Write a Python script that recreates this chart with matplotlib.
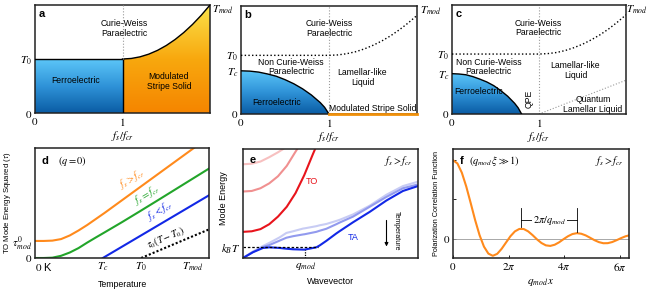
import numpy as np
import matplotlib
matplotlib.use("Agg")
import matplotlib.pyplot as plt
from matplotlib.colors import LinearSegmentedColormap
from matplotlib.patches import Polygon

plt.rcParams["font.family"] = ["Liberation Sans", "DejaVu Sans"]
plt.rcParams["mathtext.fontset"] = "stix"
plt.rcParams["font.size"] = 6.2

# ---------------- data ----------------
# phase diagrams (x = f_s/f_cr, y = temperature in axis units)
a_T0 = 0.5
a_bound_x = [1.0, 1.1, 1.2, 1.3, 1.4, 1.5, 1.6, 1.7, 1.8, 1.9, 2.0]
a_bound_y = [0.5, 0.505, 0.52, 0.545, 0.58, 0.625, 0.68, 0.745, 0.82, 0.905, 1.0]

b_T0, b_Tc, b_Tmod = 0.543, 0.40, 0.913
b_dome_x = [0.0, 0.1, 0.2, 0.3, 0.4, 0.5, 0.6, 0.7, 0.8, 0.9, 0.95, 1.0]
b_dome_y = [0.40, 0.397, 0.388, 0.371, 0.35, 0.318, 0.28, 0.233, 0.176, 0.106, 0.062, 0.0]
b_mod_x = [0.0, 1.0, 1.1, 1.2, 1.3, 1.4, 1.5, 1.6, 1.7, 1.8, 1.9, 2.0]
b_mod_y = [0.543, 0.543, 0.547, 0.558, 0.576, 0.602, 0.636, 0.676, 0.724, 0.780, 0.843, 0.913]

c_T0, c_Tc = 0.55, 0.37
c_dome_x = [0.0, 0.08, 0.16, 0.24, 0.32, 0.40, 0.48, 0.56, 0.64, 0.72, 0.76, 0.8]
c_dome_y = [0.37, 0.367, 0.36, 0.343, 0.32, 0.294, 0.26, 0.215, 0.163, 0.098, 0.057, 0.0]
c_mod_x = [0.0, 1.0, 1.1, 1.2, 1.3, 1.4, 1.5, 1.6, 1.7, 1.8, 1.9, 2.0]
c_mod_y = [0.55, 0.55, 0.554, 0.564, 0.582, 0.608, 0.64, 0.68, 0.726, 0.78, 0.842, 0.91]
c_qll_x = [1.0, 2.0]
c_qll_y = [0.0, 0.31]

# panel d: TO mode energy squared vs temperature
d_Tc, d_T0, d_Tmod = 0.39, 0.61, 0.91
d_tau_mod = 0.155
d_T = [0.0, 0.05, 0.10, 0.15, 0.20, 0.25, 0.30, 0.35, 0.40, 0.50, 0.60, 0.70, 0.80, 0.90, 1.0]
d_above = [0.155, 0.155, 0.158, 0.172, 0.205, 0.25, 0.30, 0.355, 0.41, 0.525, 0.64, 0.755, 0.87, 0.985, 1.1]
d_equal = [0.0, 0.0, 0.003, 0.02, 0.05, 0.09, 0.14, 0.187, 0.233, 0.326, 0.422, 0.519, 0.617, 0.715, 0.813]
d_below_T = [0.39, 1.0]
d_below = [0.0, 0.57]
d_cw_T = [0.61, 1.0]
d_cw = [0.0, 0.26]

# panel e: dispersions (wavevector, energy)
e_to_x = [[0.0, 0.05, 0.10, 0.15, 0.20, 0.23],
          [0.0, 0.05, 0.10, 0.15, 0.20, 0.25, 0.30, 0.31],
          [0.0, 0.05, 0.10, 0.15, 0.20, 0.25, 0.30, 0.35, 0.40, 0.412]]
e_to_y = [[0.86, 0.865, 0.885, 0.925, 0.97, 1.0],
          [0.61, 0.615, 0.64, 0.685, 0.75, 0.845, 0.975, 1.0],
          [0.24, 0.245, 0.265, 0.31, 0.38, 0.47, 0.595, 0.76, 0.955, 1.0]]
e_ta_x = [0.0, 0.057, 0.114, 0.152, 0.21, 0.248, 0.286, 0.343, 0.352, 0.419, 0.438, 0.476,
          0.533, 0.552, 0.629, 0.724, 0.819, 0.914, 1.0]
e_ta_light = [0.0, 0.06, 0.11, 0.14, 0.19, 0.23, 0.245, 0.27, 0.272, 0.292, 0.30, 0.312,
              0.34, 0.35, 0.40, 0.48, 0.58, 0.66, 0.70]
e_ta_mid = [0.0, 0.055, 0.10, 0.12, 0.16, 0.186, 0.20, 0.216, 0.218, 0.24, 0.25, 0.268,
            0.31, 0.325, 0.38, 0.47, 0.56, 0.64, 0.675]
e_ta_dark = [0.0, 0.053, 0.092, 0.098, 0.092, 0.085, 0.08, 0.077, 0.077, 0.098, 0.115, 0.157,
             0.225, 0.246, 0.328, 0.423, 0.527, 0.615, 0.66]
e_kT = 0.10
e_qmod = 0.355

# panel f: polarization correlation vs q_mod x
f_x = [0.0, 0.5, 1.0, 1.5, 2.0, 2.5, 3.0, 3.5, 4.0, 4.5, 5.0, 5.5, 6.0, 6.5, 7.0, 7.5, 8.0,
       8.5, 9.0, 9.5, 10.0, 10.5, 11.0, 11.5, 12.0, 12.5, 13.0, 13.5, 14.0, 14.5, 15.0,
       15.5, 16.0, 16.5, 17.0, 17.5, 18.0, 18.5, 19.0, 19.5, 20.0]
f_corr = [1.0, 0.959, 0.841, 0.665, 0.455, 0.239, 0.047, -0.100, -0.189, -0.217, -0.192,
          -0.128, -0.047, 0.033, 0.094, 0.125, 0.124, 0.094, 0.046, -0.008, -0.054, -0.084,
          -0.091, -0.076, -0.045, -0.005, 0.032, 0.060, 0.071, 0.064, 0.043, 0.013, -0.018,
          -0.043, -0.057, -0.056, -0.042, -0.018, 0.008, 0.031, 0.046]
f_peaks = [7.73, 14.07]

# ---------------- style ----------------
blue_cmap = LinearSegmentedColormap.from_list("fe", ["#0a5ca4", "#2f93d8", "#5cc6f8"])
orange_cmap = LinearSegmentedColormap.from_list("mss", ["#f58500", "#f8a80e", "#fbe24a"])
orange = "#ff8a1c"
green = "#22a52a"
blue = "#1228e6"
red = "#e8141c"
grey = "#9a9a9a"
math = 8
W, H = 662, 289


def px_axes(fig, left, top, right, bottom):
    return fig.add_axes([left / W, 1 - bottom / H, (right - left) / W, (bottom - top) / H])


def frame(ax):
    for s in ax.spines.values():
        s.set_linewidth(1.1)
        s.set_color("#222222")
    ax.tick_params(length=0, pad=2, labelsize=math)


def gradient_fill(ax, xs, ys, cmap, y0, y1):
    poly = Polygon(np.column_stack([xs, ys]), closed=True, facecolor="none", edgecolor="none")
    ax.add_patch(poly)
    grad = np.linspace(1, 0, 256).reshape(-1, 1)
    im = ax.imshow(grad, cmap=cmap, extent=[min(xs), max(xs), y0, y1],
                   aspect="auto", origin="upper", zorder=1)
    im.set_clip_path(poly)


def phase_axes(ax, yt, ylab):
    ax.set_xlim(0, 2)
    ax.set_ylim(0, 1)
    ax.set_xticks([0, 1])
    ax.set_xticklabels(["$0$", "$1$"])
    ax.set_yticks(yt)
    ax.set_yticklabels(ylab)
    ax.set_xlabel(r"$f_s/f_{cr}$", fontsize=math, labelpad=1)
    frame(ax)


fig = plt.figure(figsize=(W / 100, H / 100), dpi=100)

# ---- a ----
ax = px_axes(fig, 35, 5, 210, 113)
gradient_fill(ax, [0, 1, 1, 0], [0, 0, a_T0, a_T0], blue_cmap, 0, a_T0)
gradient_fill(ax, [1, 2] + a_bound_x[::-1], [0, 0] + a_bound_y[::-1], orange_cmap, 0, 1)
ax.plot([0, 1], [a_T0, a_T0], color="k", lw=1, zorder=3)
ax.plot([1, 1], [0, a_T0], color="k", lw=1, zorder=3)
ax.plot(a_bound_x, a_bound_y, color="k", lw=1, zorder=3)
ax.plot([1, 1], [a_T0, 1], color=grey, lw=0.8, ls=":", zorder=3)
ax.text(0.04, 0.92, "a", fontsize=8, weight="bold", va="center")
ax.text(1.02, 0.785, "Curie-Weiss\nParaelectric", ha="center", va="center", linespacing=1.1)
ax.text(0.46, 0.30, "Ferroelectric", ha="center", va="center")
ax.text(1.53, 0.29, "Modulated\nStripe Solid", ha="center", va="center", linespacing=1.1)
ax.text(2.02, 0.96, r"$T_{mod}$", fontsize=math, va="center", clip_on=False)
phase_axes(ax, [0, a_T0], ["$0$", "$T_0$"])

# ---- b ----
ax = px_axes(fig, 241, 6, 417, 114)
gradient_fill(ax, b_dome_x + [0], b_dome_y + [0], blue_cmap, 0, b_Tc)
ax.plot(b_dome_x, b_dome_y, color="k", lw=1, zorder=3)
ax.plot(b_mod_x, b_mod_y, color="k", lw=1, ls=":", zorder=3)
ax.plot([1, 1], [0, 1], color=grey, lw=0.8, ls=":", zorder=2)
ax.plot([1, 2], [0, 0], color="#f0900a", lw=2, zorder=4, clip_on=False)
ax.text(0.04, 0.92, "b", fontsize=8, weight="bold", va="center")
ax.text(1.0, 0.79, "Curie-Weiss\nParaelectric", ha="center", va="center", linespacing=1.1)
ax.text(0.57, 0.435, "Non Curie-Weiss\nParaelectric", ha="center", va="center", linespacing=1.1)
ax.text(1.38, 0.34, "Lamellar-like\nLiquid", ha="center", va="center", linespacing=1.1)
ax.text(0.41, 0.11, "Ferroelectric", ha="center", va="center", zorder=5)
ax.text(1.5, 0.055, "Modulated Stripe Solid", ha="center", va="center")
ax.text(2.03, 0.96, r"$T_{mod}$", fontsize=math, va="center", clip_on=False)
phase_axes(ax, [0, b_Tc, b_T0], ["$0$", "$T_c$", "$T_0$"])

# ---- c ----
ax = px_axes(fig, 452, 5, 626, 114)
gradient_fill(ax, c_dome_x + [0], c_dome_y + [0], blue_cmap, 0, c_Tc)
ax.plot(c_dome_x, c_dome_y, color="k", lw=1, zorder=3)
ax.plot(c_mod_x, c_mod_y, color="k", lw=1, ls=":", zorder=3)
ax.plot([1, 1], [0, 1], color=grey, lw=0.8, ls=":", zorder=2)
ax.plot(c_qll_x, c_qll_y, color=grey, lw=0.8, ls=":", zorder=2)
ax.text(0.04, 0.92, "c", fontsize=8, weight="bold", va="center")
ax.text(0.99, 0.79, "Curie-Weiss\nParaelectric", ha="center", va="center", linespacing=1.1)
ax.text(0.42, 0.43, "Non Curie-Weiss\nParaelectric", ha="center", va="center", linespacing=1.1)
ax.text(1.42, 0.40, "Lamellar-like\nLiquid", ha="center", va="center", linespacing=1.1)
ax.text(0.31, 0.21, "Ferroelectric", ha="center", va="center", zorder=5)
ax.text(0.89, 0.14, "QPE", ha="center", va="center", rotation=90)
ax.text(1.62, 0.085, "Quantum\nLamellar Liquid", ha="center", va="center", linespacing=1.1)
ax.text(2.0, 0.96, r"$T_{mod}$", fontsize=math, va="center", clip_on=False)
phase_axes(ax, [0, c_Tc, c_T0], ["$0$", "$T_c$", "$T_0$"])

# ---- d ----
ax = px_axes(fig, 35, 148, 209, 258)
ax.plot(d_T, d_above, color=orange, lw=1.5)
ax.plot(d_T, d_equal, color=green, lw=1.5)
ax.plot(d_below_T, d_below, color=blue, lw=1.5)
ax.plot(d_cw_T, d_cw, color="k", lw=1.5, ls=(0, (1, 1)))
ax.set_xlim(0, 1)
ax.set_ylim(0, 1)
ax.text(0.04, 0.88, "d", fontsize=8, weight="bold", va="center")
ax.text(0.13, 0.88, r"$(q = 0)$", fontsize=7.5, va="center")
ax.text(0.555, 0.725, r"$f_s > f_{cr}$", color=orange, fontsize=7.5, rotation=31,
        ha="center", va="center", rotation_mode="anchor")
ax.text(0.645, 0.58, r"$f_s = f_{cr}$", color=green, fontsize=7.5, rotation=31,
        ha="center", va="center", rotation_mode="anchor")
ax.text(0.72, 0.435, r"$f_s < f_{cr}$", color=blue, fontsize=7.5, rotation=31,
        ha="center", va="center", rotation_mode="anchor")
ax.text(0.75, 0.18, r"$\tau_0(T-T_0)$", color="k", fontsize=7, rotation=23,
        ha="center", va="center", rotation_mode="anchor")
ax.set_xticks([0, d_Tc, d_T0, d_Tmod])
ax.set_xticklabels(["$0$ K", "$T_c$", "$T_0$", "$T_{mod}$"])
ax.set_yticks([0, d_tau_mod])
ax.set_yticklabels(["$0$", r"$\tau^0_{mod}$"])
frame(ax)
ax.get_xticklabels()[0].set_horizontalalignment("left")
ax.set_xlabel("Temperature", fontsize=6.3)
ax.xaxis.set_label_coords(0.5, -0.2)
ax.set_ylabel(r"TO Mode Energy Squared ($\tau$)", fontsize=5.6)
ax.yaxis.set_label_coords(-0.125, 0.5)

# ---- e ----
ax = px_axes(fig, 243, 149, 418, 258)
for xs, ys, c in zip(e_to_x, e_to_y, ["#f7c0c0", "#f09090", red]):
    ax.plot(xs, ys, color=c, lw=1.5)
ax.plot(e_ta_x, e_ta_light, color="#c8ccf4", lw=1.5)
ax.plot(e_ta_x, e_ta_mid, color="#929aee", lw=1.5)
ax.plot(e_ta_x, e_ta_dark, color=blue, lw=1.5)
ax.plot([0, 0.43], [e_kT, e_kT], color="k", lw=0.9, ls=(0, (2, 1.5)))
ax.plot([e_qmod, e_qmod], [0, 0.072], color="k", lw=0.9, ls=(0, (1, 1)))
ax.annotate("", xy=(0.82, 0.08), xytext=(0.82, 0.37),
            arrowprops=dict(arrowstyle="-|>", color="k", lw=0.8, mutation_scale=5))
ax.text(0.875, 0.25, "Temperature", rotation=-90, ha="center", va="center", fontsize=5)
ax.text(0.395, 0.70, "TO", color=red, ha="center", va="center", fontsize=6.5)
ax.text(0.63, 0.19, "TA", color=blue, ha="center", va="center", fontsize=6.5)
ax.text(0.04, 0.90, "e", fontsize=8, weight="bold", va="center")
ax.text(0.97, 0.89, r"$f_s > f_{cr}$", fontsize=7.5, ha="right", va="center")
ax.set_xlim(0, 1)
ax.set_ylim(0, 1)
ax.set_xticks([e_qmod])
ax.set_xticklabels([r"$q_{mod}$"])
ax.set_yticks([e_kT])
ax.set_yticklabels([r"$k_BT$"])
frame(ax)
ax.set_xlabel("Wavevector", fontsize=6.5)
ax.xaxis.set_label_coords(0.5, -0.17)
ax.set_ylabel("Mode Energy", fontsize=6.5)
ax.yaxis.set_label_coords(-0.086, 0.55)

# ---- f ----
ax = px_axes(fig, 453, 149, 629, 258)
ax.axhline(0, color=grey, lw=0.6)
ax.plot(f_x, f_corr, color=orange, lw=1.5)
ax.plot([f_peaks[0], f_peaks[0]], [0.15, 0.39], color="k", lw=0.6)
ax.plot([f_peaks[1], f_peaks[1]], [0.09, 0.39], color="k", lw=0.6)
ax.plot(f_peaks, [0.237, 0.237], color="k", lw=0.6)
ax.text(sum(f_peaks) / 2, 0.237, r"$2\pi/q_{mod}$", fontsize=7.5, ha="center", va="center",
        bbox=dict(facecolor="white", edgecolor="none", pad=0.5))
ax.text(0.04, 0.89, "f", fontsize=8, weight="bold", va="center", transform=ax.transAxes)
ax.text(0.09, 0.89, r"$(q_{mod}\,\xi \gg 1)$", fontsize=7.5, va="center", transform=ax.transAxes)
ax.text(0.97, 0.89, r"$f_s > f_{cr}$", fontsize=7.5, ha="right", va="center",
        transform=ax.transAxes)
ax.set_xlim(0, 19.9)
ax.set_ylim(-0.245, 1.143)
ax.set_xticks([0, 2 * np.pi, 4 * np.pi, 6 * np.pi])
ax.set_xticklabels(["$0$", r"$2\pi$", r"$4\pi$", r"$6\pi$"])
ax.set_yticks([0, 0.5, 1])
ax.set_yticklabels(["$0$", "", ""])
frame(ax)
ax.tick_params(direction="in", length=2, width=0.6)
ax.set_xlabel(r"$q_{mod}\,x$", fontsize=math)
ax.xaxis.set_label_coords(0.5, -0.17)
ax.set_ylabel("Polarization Correlation Function", fontsize=5.2)
ax.yaxis.set_label_coords(-0.075, 0.5)

fig.savefig("out.png", dpi=100)
